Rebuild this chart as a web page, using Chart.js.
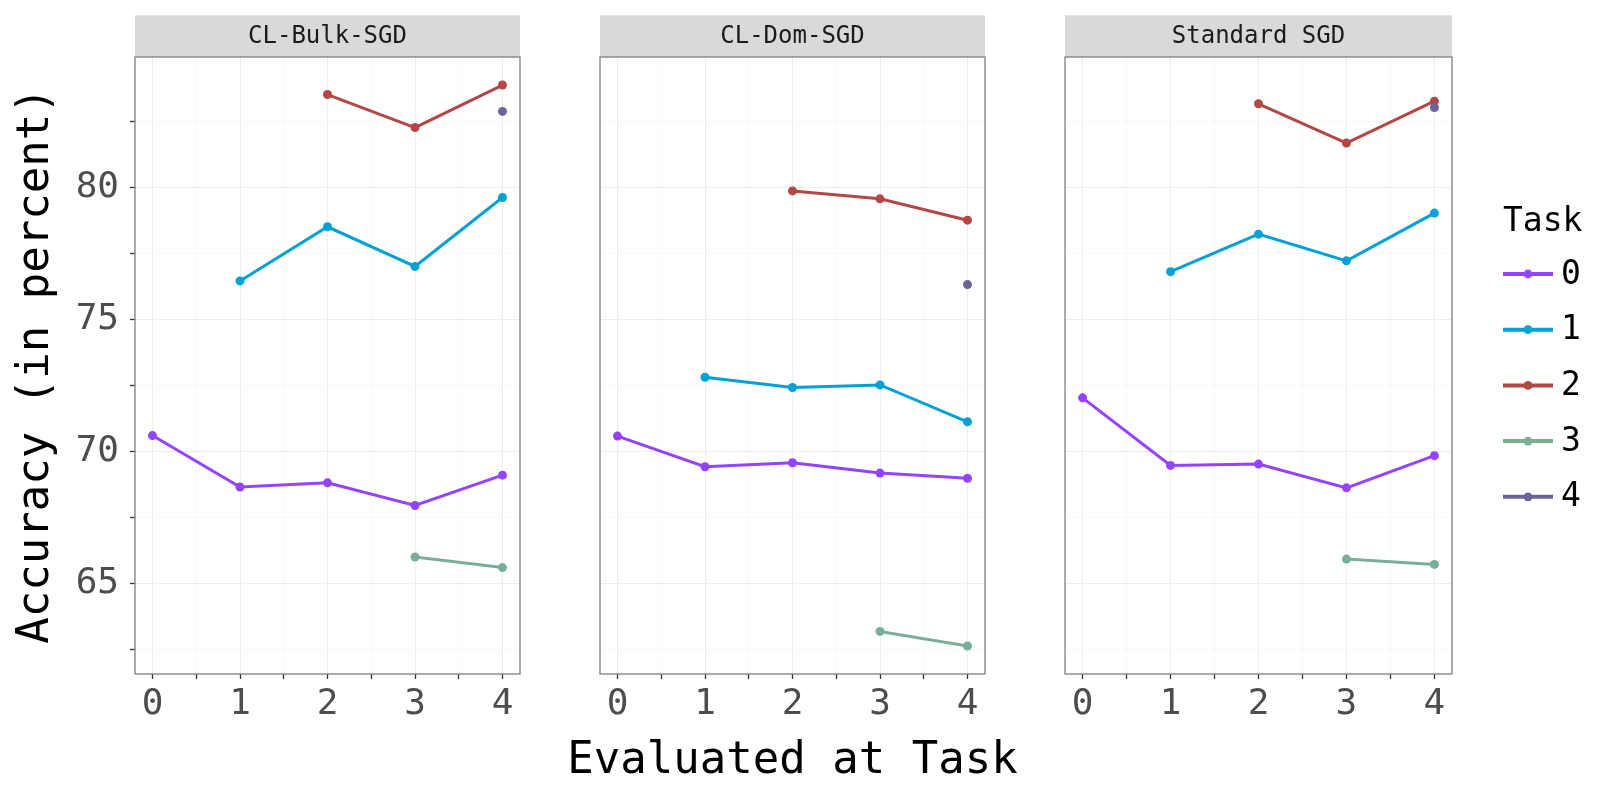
<!DOCTYPE html>
<html>
<head>
<meta charset="utf-8">
<script src="https://cdn.jsdelivr.net/npm/chart.js@4.4.1/dist/chart.umd.min.js"></script>
<style>
  body { margin: 0; background: #fff; }
  #wrap { position: relative; width: 1600px; height: 800px; }
  canvas { position: absolute; top: 0; }
</style>
</head>
<body>
<div id="wrap">
  <canvas id="bulk" width="525" height="800" style="left:0px"></canvas>
  <canvas id="dom" width="500" height="800" style="left:540px"></canvas>
  <canvas id="std" width="540" height="800" style="left:1060px"></canvas>
</div>
<script>
// values, one row per task (null = not trained yet)
const evalTasks = [0, 1, 2, 3, 4];
const taskLabels = [`0`, `1`, `2`, `3`, `4`];
const taskColors = [`#9443FF`, `#00A1D5`, `#B24745`, `#79AF97`, `#6A6599`];
const panelTitles = [`CL-Bulk-SGD`, `CL-Dom-SGD`, `Standard SGD`];

const bulkSgd = [
	[70.61, 68.66, 68.82, 67.96, 69.11],
	[null, 76.47, 78.52, 77.02, 79.63],
	[null, null, 83.53, 82.28, 83.89],
	[null, null, null, 66.01, 65.61],
	[null, null, null, null, 82.89]
];
const domSgd = [
	[70.59, 69.43, 69.58, 69.19, 68.99],
	[null, 72.82, 72.43, 72.53, 71.13],
	[null, null, 79.88, 79.58, 78.77],
	[null, null, null, 63.19, 62.64],
	[null, null, null, null, 76.33]
];
const standardSgd = [
	[72.04, 69.48, 69.53, 68.63, 69.85],
	[null, 76.82, 78.24, 77.23, 79.04],
	[null, null, 83.18, 81.69, 83.28],
	[null, null, null, 65.93, 65.73],
	[null, null, null, null, 83.04]
];

const MONO = `'DejaVu Sans Mono', monospace`;
const canvasLefts = [0, 540, 1060];
const padLefts = [0, 60, 5];
const padRights = [5, 55, 148];

// ggplot-style 5% expansion of the shared y range
const allValues = [...bulkSgd, ...domSgd, ...standardSgd].flat().filter(v => v !== null);
const dataMin = Math.min(...allValues);
const dataMax = Math.max(...allValues);
const yPad = (dataMax - dataMin) * 0.05;
const yMin = dataMin - yPad;
const yMax = dataMax + yPad;

const panelFrame = {
	id: `panelFrame`,
	beforeDraw(chart, args, opts) {
		const {ctx, chartArea: a} = chart;
		ctx.save();
		ctx.fillStyle = `#D9D9D9`;
		ctx.fillRect(a.left, 15.3, a.right - a.left, a.top - 15.3);
		ctx.fillStyle = `#1A1A1A`;
		ctx.font = `24px ${MONO}`;
		ctx.textAlign = `center`;
		ctx.textBaseline = `middle`;
		ctx.fillText(opts.title, (a.left + a.right) / 2, 36.5);
		ctx.restore();
	},
	afterDatasetsDraw(chart) {
		const {ctx, chartArea: a} = chart;
		ctx.save();
		ctx.strokeStyle = `#7F7F7F`;
		ctx.lineWidth = 1.3;
		ctx.strokeRect(a.left, a.top, a.right - a.left, a.bottom - a.top);
		ctx.restore();
	},
	afterDraw(chart, args, opts) {
		if (!opts.xTitle) { return; }
		// drawn here so the long title is not squeezed to the panel width
		const {ctx, chartArea: a} = chart;
		ctx.save();
		ctx.fillStyle = `#000`;
		ctx.font = `44px ${MONO}`;
		ctx.textAlign = `center`;
		ctx.textBaseline = `middle`;
		ctx.fillText(opts.xTitle, (a.left + a.right) / 2, 762);
		ctx.restore();
	}
};

const taskLegend = {
	id: `taskLegend`,
	afterDraw(chart, args, opts) {
		if (!opts.display) { return; }
		const {ctx} = chart;
		const x0 = 1503 - opts.offset;
		ctx.save();
		ctx.fillStyle = `#000`;
		ctx.font = `33px ${MONO}`;
		ctx.textAlign = `left`;
		ctx.textBaseline = `middle`;
		ctx.fillText(`Task`, x0, 222);
		chart.data.datasets.forEach((ds, i) => {
			const y = 274 + i * 55.7;
			ctx.strokeStyle = ds.borderColor;
			ctx.lineWidth = 4;
			ctx.beginPath();
			ctx.moveTo(x0, y);
			ctx.lineTo(x0 + 50, y);
			ctx.stroke();
			ctx.fillStyle = ds.borderColor;
			ctx.beginPath();
			ctx.arc(x0 + 25, y, 4.4, 0, Math.PI * 2);
			ctx.fill();
			ctx.fillStyle = `#000`;
			ctx.fillText(ds.label, x0 + 58, y + 1);
		});
		ctx.restore();
	}
};

function makeDatasets(rows) {
	return rows.map((row, i) => ({
		label: taskLabels[i],
		data: evalTasks.map((x, j) => ({x, y: row[j]})),
		borderColor: taskColors[i],
		backgroundColor: taskColors[i],
		borderWidth: 3,
		pointRadius: 4.5,
		pointBorderWidth: 0,
		pointHoverRadius: 4.5,
		order: taskLabels.length - i,
		spanGaps: false
	}));
}

function gridColor(ctx, majorStep) {
	return ctx.tick && Math.abs(ctx.tick.value % majorStep) < 1e-6 ? `#EDEDED` : `#F5F5F5`;
}

function makeChart(id, rows, index) {
	const first = index === 0;
	const last = index === 2;
	const middle = index === 1;
	return new Chart(document.getElementById(id), {
		type: `line`,
		data: {datasets: makeDatasets(rows)},
		options: {
			responsive: false,
			animation: false,
			devicePixelRatio: 1,
			layout: {padding: {top: 57, bottom: 0, left: padLefts[index], right: padRights[index]}},
			plugins: {
				legend: {display: false},
				tooltip: {enabled: false},
				panelFrame: {title: panelTitles[index], xTitle: middle ? `Evaluated at Task` : null},
				taskLegend: {display: last, offset: canvasLefts[index]}
			},
			scales: {
				x: {
					type: `linear`,
					min: -0.2,
					max: 4.2,
					afterFit: s => { s.height = 126; },
					border: {display: false},
					grid: {
						color: c => gridColor(c, 1),
						lineWidth: c => (c.tick && c.tick.value % 1 === 0 ? 1 : 0.6),
						tickLength: 5,
						tickColor: `#333333`,
						tickWidth: 1.3
					},
					ticks: {
						stepSize: 0.5,
						includeBounds: false,
						autoSkip: false,
						maxRotation: 0,
						padding: 4,
						color: `#4D4D4D`,
						font: {family: MONO, size: 36},
						callback: v => (v % 1 === 0 ? String(v) : ``)
					}
				},
				y: {
					type: `linear`,
					min: yMin,
					max: yMax,
					afterFit: s => { s.width = first ? 135 : 0; },
					border: {display: false},
					grid: {
						color: c => gridColor(c, 5),
						lineWidth: c => (c.tick && c.tick.value % 5 === 0 ? 1 : 0.6),
						drawTicks: first,
						tickLength: 5,
						tickColor: `#333333`,
						tickWidth: 1.3
					},
					ticks: {
						display: first,
						stepSize: 2.5,
						includeBounds: false,
						padding: 11,
						color: `#4D4D4D`,
						font: {family: MONO, size: 36},
						callback: v => (v % 5 === 0 ? String(v) : ``)
					},
					title: {
						display: first,
						text: `Accuracy (in percent)`,
						color: `#000`,
						font: {family: MONO, size: 44},
						padding: {top: 10, bottom: 0}
					}
				}
			}
		},
		plugins: [panelFrame, taskLegend]
	});
}

makeChart(`bulk`, bulkSgd, 0);
makeChart(`dom`, domSgd, 1);
makeChart(`std`, standardSgd, 2);
</script>
</body>
</html>
